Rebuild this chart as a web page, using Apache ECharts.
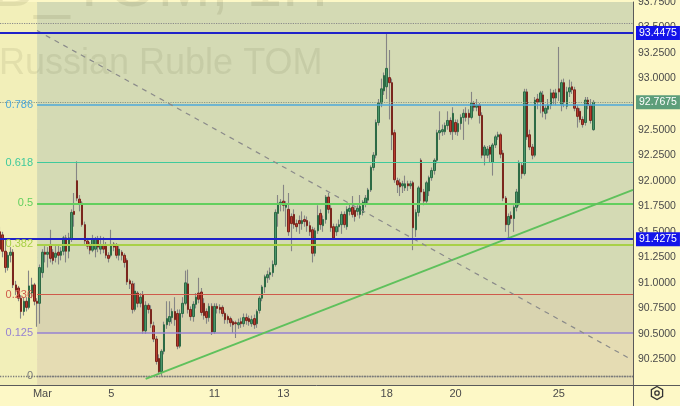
<!DOCTYPE html>
<html><head><meta charset="utf-8">
<script src="https://cdn.jsdelivr.net/npm/echarts@6/dist/echarts.min.js"></script>
<style>html,body{margin:0;padding:0;background:#fdf8c6;}#c{width:680px;height:406px;}</style>
</head><body><div id="c"></div>
<script>
// hourly candles per session: [open, close, low, high]
const feb28 = [[91.50,91.33,91.28,91.55],[91.47,91.31,91.25,91.50],[91.31,91.15,91.10,91.42]];
const feb29 = [[91.15,91.27,91.12,91.30],[91.27,91.30,91.20,91.35],[91.30,90.98,90.95,91.33],[90.98,90.93,90.88,91.02],[90.95,90.85,90.82,90.97],[90.85,90.72,90.65,90.88],[90.72,90.82,90.68,90.86],[90.82,90.76,90.72,90.86],[90.76,90.97,90.74,91.12],[90.90,90.98,90.85,91.05],[90.98,90.82,90.78,91.00],[90.82,90.80,90.57,90.85],[90.80,91.15,90.60,91.18]];
const mar01 = [[91.10,91.30,91.05,91.33],[91.30,91.28,91.20,91.36],[91.28,91.30,91.15,91.35],[91.37,91.24,91.20,91.52],[91.30,91.22,91.18,91.33],[91.25,91.29,91.20,91.36],[91.30,91.27,91.18,91.38],[91.27,91.31,91.22,91.35],[91.31,91.44,91.27,91.46],[91.44,91.31,91.20,91.47],[91.31,91.44,91.24,91.49],[91.43,91.69,91.40,91.72],[91.70,91.67,91.55,91.88]];
const mar04 = [[92.00,91.83,91.80,92.19],[91.82,91.78,91.70,91.86],[91.78,91.57,91.55,91.80],[91.57,91.41,91.38,91.60],[91.41,91.36,91.33,91.44],[91.36,91.32,91.28,91.40],[91.32,91.43,91.30,91.47],[91.33,91.43,91.25,91.45],[91.43,91.35,91.30,91.46],[91.33,91.37,91.28,91.46],[91.37,91.33,91.29,91.45],[91.36,91.27,91.24,91.40],[91.27,91.24,91.20,91.30]];
const mar05 = [[91.27,91.37,91.25,91.52],[91.38,91.35,91.31,91.40],[91.37,91.27,91.24,91.39],[91.27,91.33,91.22,91.36],[91.30,91.27,91.22,91.32],[91.27,91.20,91.15,91.29],[91.22,91.01,90.98,91.24],[91.02,90.99,90.94,91.04],[90.99,90.74,90.70,91.02],[90.74,90.92,90.72,91.00],[90.90,90.80,90.76,90.92],[90.80,90.86,90.76,90.90],[90.88,90.53,90.50,90.92]];
const mar06 = [[90.53,90.78,90.50,90.82],[90.78,90.74,90.70,90.80],[90.74,90.60,90.56,90.78],[90.58,90.45,90.42,90.62],[90.45,90.23,90.20,90.48],[90.26,90.13,90.10,90.30],[90.13,90.33,90.09,90.35],[90.33,90.59,90.30,90.62],[90.59,90.65,90.55,90.82],[90.62,90.67,90.58,90.82],[90.66,90.72,90.60,90.75],[90.72,90.64,90.58,90.86],[90.70,90.38,90.35,90.74]];
const mar07 = [[90.38,90.70,90.36,90.74],[90.70,90.80,90.66,90.86],[90.80,91.00,90.78,91.12],[90.99,90.74,90.70,91.13],[90.74,90.67,90.63,90.77],[90.67,90.79,90.62,90.82],[90.79,90.86,90.75,90.90],[90.90,90.84,90.80,91.05],[90.91,90.71,90.68,90.95],[90.80,90.68,90.64,90.85],[90.72,90.66,90.60,90.75],[90.66,90.77,90.62,90.80],[90.77,90.52,90.49,90.80]];
const mar11 = [[90.52,90.77,90.50,90.80],[90.77,90.75,90.70,90.80],[90.76,90.74,90.70,90.79],[90.76,90.70,90.67,90.78],[90.70,90.64,90.60,90.72],[90.67,90.64,90.60,90.69],[90.65,90.61,90.57,90.67],[90.62,90.59,90.51,90.64],[90.61,90.60,90.46,90.63],[90.59,90.61,90.55,90.65],[90.62,90.60,90.56,90.66],[90.60,90.66,90.57,90.70],[90.66,90.63,90.59,90.70]];
const mar12 = [[90.65,90.62,90.58,90.68],[90.60,90.64,90.57,90.68],[90.65,90.59,90.55,90.69],[90.60,90.72,90.56,90.74],[90.73,90.85,90.70,90.87],[90.85,90.96,90.82,90.98],[90.96,91.06,90.90,91.08],[91.05,91.08,91.00,91.12],[91.08,91.10,91.03,91.15],[91.10,91.18,91.06,91.22],[91.18,91.69,91.16,91.72],[91.68,91.78,91.55,91.86],[91.77,91.79,91.70,91.82]];
const mar13 = [[91.80,91.76,91.70,91.96],[91.74,91.77,91.55,91.80],[91.72,91.50,91.46,91.88],[91.65,91.58,91.31,91.68],[91.67,91.57,91.53,91.72],[91.58,91.55,91.50,91.62],[91.61,91.58,91.48,91.66],[91.58,91.61,91.52,91.70],[91.62,91.60,91.55,91.66],[91.61,91.56,91.50,91.65],[91.56,91.50,91.46,91.60],[91.52,91.29,91.20,91.55],[91.29,91.51,91.26,91.54]];
const mar14 = [[91.51,91.66,91.48,91.76],[91.68,91.57,91.52,91.72],[91.56,91.62,91.50,91.66],[91.62,91.84,91.58,91.86],[91.84,91.72,91.68,91.88],[91.73,91.54,91.50,91.76],[91.55,91.44,91.42,91.58],[91.50,91.55,91.46,91.58],[91.55,91.57,91.50,91.62],[91.57,91.67,91.48,91.70],[91.67,91.57,91.54,91.70],[91.55,91.72,91.52,91.75],[91.70,91.73,91.66,91.77]];
const mar15 = [[91.74,91.67,91.64,91.85],[91.71,91.65,91.60,91.74],[91.70,91.73,91.66,91.76],[91.67,91.75,91.63,91.86],[91.69,91.79,91.66,91.81],[91.78,91.83,91.74,91.86],[91.81,91.91,91.78,91.93],[91.91,92.13,91.89,92.15],[92.13,92.25,92.10,92.28],[92.25,92.57,92.22,92.60],[92.57,92.76,92.54,92.80],[92.76,92.90,92.72,93.00],[92.88,93.03,92.84,93.06]];
const mar18 = [[92.92,93.10,92.80,93.45],[93.01,92.96,92.60,93.28],[92.96,92.45,92.30,93.00],[92.47,92.01,91.98,92.50],[92.00,91.96,91.88,92.03],[91.98,91.94,91.85,92.02],[91.95,91.97,91.88,92.00],[91.93,91.97,91.90,92.05],[91.97,91.95,91.90,92.00],[91.95,91.97,91.92,92.00],[91.98,91.54,91.32,92.00],[91.52,91.69,91.45,91.72],[91.69,91.93,91.65,91.95]];
const mar19 = [[92.20,91.89,91.80,92.22],[91.89,91.80,91.76,91.92],[91.80,91.98,91.77,92.00],[91.90,92.03,91.85,92.05],[92.03,92.10,92.00,92.13],[92.10,92.20,92.06,92.22],[92.20,92.47,92.17,92.50],[92.47,92.49,92.40,92.68],[92.48,92.50,92.44,92.55],[92.48,92.54,92.45,92.57],[92.54,92.59,92.50,92.68],[92.59,92.48,92.45,92.62],[92.48,92.66,92.40,92.72]];
const mar20 = [[92.57,92.48,92.45,92.60],[92.48,92.56,92.44,92.60],[92.56,92.62,92.50,92.65],[92.62,92.66,92.40,92.70],[92.66,92.62,92.58,92.72],[92.66,92.62,92.55,92.70],[92.62,92.76,92.60,92.87],[92.76,92.72,92.68,92.78],[92.72,92.74,92.68,92.80],[92.74,92.64,92.56,92.76],[92.64,92.25,92.22,92.67],[92.25,92.33,92.15,92.35],[92.25,92.31,92.22,92.34]];
const mar21 = [[92.33,92.26,92.18,92.35],[92.18,92.35,92.05,92.37],[92.35,92.43,92.32,92.45],[92.43,92.45,92.40,92.48],[92.45,92.26,92.22,92.47],[92.27,91.83,91.80,92.30],[91.83,91.57,91.50,91.85],[91.57,91.65,91.43,91.68],[91.66,91.63,91.58,91.70],[91.63,91.74,91.50,91.76],[91.74,91.89,91.70,91.92],[91.78,92.17,91.75,92.20],[92.15,92.07,92.02,92.18]];
const mar22 = [[92.07,92.87,92.05,92.90],[92.87,92.43,92.40,92.90],[92.45,92.33,92.30,92.50],[92.33,92.25,92.21,92.36],[92.25,92.79,92.23,92.82],[92.80,92.77,92.70,92.85],[92.77,92.86,92.66,92.88],[92.84,92.68,92.62,92.88],[92.66,92.71,92.60,92.74],[92.70,92.74,92.66,92.80],[92.74,92.86,92.70,92.90],[92.86,92.81,92.75,92.89],[92.81,92.86,92.74,92.90]];
const mar25 = [[92.90,92.87,92.78,93.31],[92.75,92.96,92.68,92.99],[92.96,92.77,92.72,93.00],[92.73,92.87,92.70,92.92],[92.87,92.91,92.82,92.99],[92.92,92.89,92.85,92.97],[92.89,92.71,92.68,92.92],[92.71,92.63,92.52,92.74],[92.68,92.60,92.57,92.71],[92.60,92.55,92.52,92.63],[92.57,92.79,92.54,92.82],[92.79,92.74,92.70,92.82],[92.74,92.59,92.56,92.80]];
const mar26 = [[92.50,92.7675,92.49,92.79]];

const sessions = [['02-28',feb28],['02-29',feb29],['03-01',mar01],['03-04',mar04],['03-05',mar05],['03-06',mar06],['03-07',mar07],['03-11',mar11],['03-12',mar12],['03-13',mar13],['03-14',mar14],['03-15',mar15],['03-18',mar18],['03-19',mar19],['03-20',mar20],['03-21',mar21],['03-22',mar22],['03-25',mar25],['03-26',mar26]];
const tickLabels = {'03-01':'Mar','03-05':'5','03-11':'11','03-13':'13','03-18':'18','03-20':'20','03-25':'25'};
const priceTicks = {min: 90, max: 93.75, step: 0.25};
const userLines = [93.4475, 91.4275];
const lastPrice = 92.7675;
const fibLow = 90.085, fibHigh = 93.47, fibStartSlot = 14;
const fibRatios = ['1','0.786','0.618','0.5','0.382','0.236','0.125','0'];
const rangeHigh = 93.54;
const greenTrend = [[55, 90.06], [239, 91.91]];
const dashedTrend = [[14, 93.47], [237, 90.27]];
const SLOTS = 240;

const cats = [], ohlc = [];
sessions.forEach(([d, arr]) => arr.forEach((c, k) => { cats.push(d + ' #' + k); ohlc.push(c); }));
while (cats.length < SLOTS) cats.push('pad' + cats.length);
const last = SLOTS - 1;
const bodies = ohlc.map(([o, c]) => [o, c, Math.min(o, c), Math.max(o, c)]);
const fibVal = r => fibLow + parseFloat(r) * (fibHigh - fibLow);
const isTick = (i, v) => { const p = String(v).split(' #'); return p[1] === '0' && tickLabels[p[0]] !== undefined; };

const fibStyle = {
  '1': {c:'#7c7c7c', w:0, t:'solid'}, '0.786': {c:'#4ea8da', w:1.6, t:'solid'},
  '0.618': {c:'#3fca9c', w:1.2, t:'solid'}, '0.5': {c:'#62cf5e', w:2, t:'solid'},
  '0.382': {c:'#a8d048', w:2, t:'solid'}, '0.236': {c:'#cf5a4b', w:1.2, t:'solid'},
  '0.125': {c:'#9682d2', w:1.6, t:'solid'}, '0': {c:'#7a7a7a', w:1.3, t:'dotted'}
};

const fibLines = fibRatios.map(r => {
  const s = fibStyle[r], v = fibVal(r);
  return [{coord: [fibStartSlot, v], lineStyle: {color: s.c, width: s.w, type: s.t, opacity: s.w ? 1 : 0},
           label: {show: true, position: 'start', formatter: r, color: s.c, fontSize: 11, distance: 4, fontFamily: 'Liberation Sans'}},
          {coord: [last, v]}];
});
const zoneArea = (x0, x1, yTop, yBot, color) => [{xAxis: x0, yAxis: yTop, itemStyle: {color}}, {xAxis: x1, yAxis: yBot}];

const chart = echarts.init(document.getElementById('c'), null, {renderer: 'canvas'});
chart.setOption({
  animation: false,
  backgroundColor: '#fdf8c6',
  grid: {left: 0, right: 47, top: 2, bottom: 21, outerBoundsMode: 'none', containLabel: false},
  xAxis: {
    type: 'category', data: cats, boundaryGap: false,
    axisLine: {show: true, lineStyle: {color: '#5a5a5a', width: 1}},
    axisTick: {show: false},
    axisLabel: {interval: isTick, formatter: v => tickLabels[String(v).split(' #')[0]] || '', color: '#4a4a4a', fontSize: 11, margin: 3, fontFamily: 'Liberation Sans'},
    splitLine: {show: true, interval: isTick, lineStyle: {color: '#c8ced6', width: 1}}
  },
  yAxis: {
    type: 'value', position: 'right', min: priceTicks.min, max: priceTicks.max, interval: priceTicks.step, scale: true,
    axisLine: {show: true, lineStyle: {color: '#5a5a5a', width: 1}},
    axisTick: {show: false},
    axisLabel: {formatter: v => v.toFixed(4), color: '#4a4a4a', fontSize: 10.5, margin: 5, fontFamily: 'Liberation Sans', showMinLabel: false},
    splitLine: {show: true, lineStyle: {color: '#c8ced6', width: 1}}
  },
  graphic: [
    {type: 'text', x: -236, y: -44, z: 2, silent: true, style: {text: 'USDRUB_TOM, 1H', fontSize: 64, fontFamily: 'Liberation Sans', fill: 'rgba(70,70,30,0.10)'}},
    {type: 'text', x: -1, y: 46, z: 2, silent: true, style: {text: 'Russian Ruble TOM', fontSize: 36, fontFamily: 'Liberation Sans', fill: 'rgba(70,70,30,0.09)'}},
    {type: 'line', z: 10, silent: true, shape: {x1: 633.5, y1: 385, x2: 633.5, y2: 406}, style: {stroke: '#5a5a5a', lineWidth: 1}},
    {type: 'line', z: 10, silent: true, shape: {x1: 633, y1: 385.5, x2: 680, y2: 385.5}, style: {stroke: '#5a5a5a', lineWidth: 1}},
    {type: 'polygon', z: 10, silent: true, shape: {points: [[657,386.5],[662.6,389.7],[662.6,396.3],[657,399.5],[651.4,396.3],[651.4,389.7]]}, style: {fill: 'none', stroke: '#333', lineWidth: 1.3}},
    {type: 'circle', z: 10, silent: true, shape: {cx: 657, cy: 393, r: 2.2}, style: {fill: 'none', stroke: '#333', lineWidth: 1.3}}
  ],
  series: [
    {
      type: 'line', data: [], z: -1, silent: true,
      markArea: {silent: true, data: [
        zoneArea(0, fibStartSlot, priceTicks.max, priceTicks.min, '#f2efb9'),
        zoneArea(fibStartSlot, last, priceTicks.max, fibVal('0.236'), '#d4dab4'),
        zoneArea(fibStartSlot, last, fibVal('0.236'), fibVal('0.125'), '#d9d4b0'),
        zoneArea(fibStartSlot, last, fibVal('0.125'), priceTicks.min, '#e5dcb3')
      ]}
    },
    {
      type: 'line', data: [], z: 1, silent: true,
      markLine: {silent: true, symbol: ['none', 'none'], animation: false, data: fibLines.concat([
        [{coord: [0, rangeHigh], lineStyle: {color: '#8a8a8a', width: 1.2, type: 'dotted'}, label: {show: false}}, {coord: [last, rangeHigh]}],
        [{coord: [0, fibLow], lineStyle: {color: '#7a7a7a', width: 1.3, type: 'dotted'}, label: {show: false}}, {coord: [last, fibLow]}]
      ])}
    },
    {
      type: 'candlestick', data: ohlc, z: 3, barWidth: 1, silent: true,
      itemStyle: {color: '#858585', color0: '#858585', borderColor: '#858585', borderColor0: '#858585', borderColorDoji: '#858585', borderWidth: 1.1}
    },
    {
      type: 'candlestick', data: bodies, z: 4, barWidth: 2, silent: true,
      itemStyle: {color: '#4b956a', color0: '#b83b2d', borderColor: '#2d6a45', borderColor0: '#7a261d', borderColorDoji: '#555', borderWidth: 1}
    },
    {
      type: 'line', data: [], z: 6, silent: true,
      markLine: {silent: true, symbol: ['none', 'none'], animation: false, data: [
        [{coord: greenTrend[0], lineStyle: {color: '#5fc15c', width: 2, type: 'solid'}, label: {show: false}}, {coord: greenTrend[1]}],
        [{coord: dashedTrend[0], lineStyle: {color: '#8a8a8a', width: 1.2, type: [5, 5]}, label: {show: false}}, {coord: dashedTrend[1]}],
        [{coord: [0, lastPrice], lineStyle: {color: '#8c9a88', width: 1.2, type: 'dotted'},
          label: {show: true, position: 'end', formatter: lastPrice.toFixed(4), color: '#fff', backgroundColor: '#5d9e7a', padding: [2, 3, 1, 3], fontSize: 10.5, distance: 3, fontFamily: 'Liberation Sans'}}, {coord: [last, lastPrice]}]
      ].concat(userLines.map(v => [
        {coord: [0, v], lineStyle: {color: '#1f22c9', width: 2, type: 'solid'},
         label: {show: true, position: 'end', formatter: v.toFixed(4), color: '#fff', backgroundColor: '#1414ea', padding: [2, 3, 1, 3], fontSize: 10.5, distance: 3, fontFamily: 'Liberation Sans'}},
        {coord: [last, v]}
      ]))}
    }
  ]
});
</script></body></html>
